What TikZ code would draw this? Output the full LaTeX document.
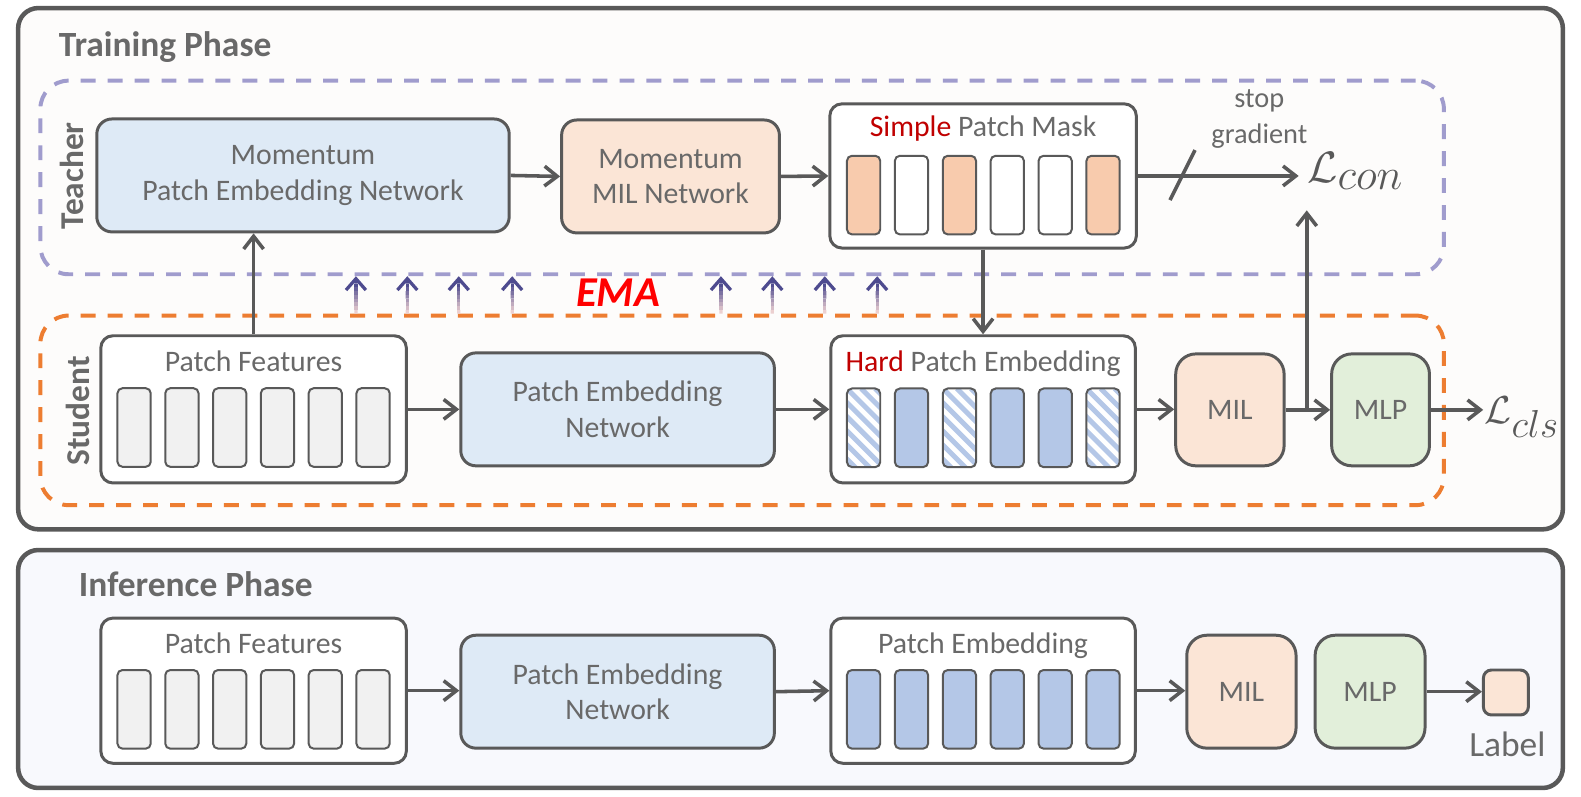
\documentclass[tikz,border=0pt]{standalone}
\usepackage{fix-cm}
\usepackage{fontspec}
\setmainfont{Carlito}
\usetikzlibrary{arrows.meta,calc}
\definecolor{linegray}{RGB}{89,89,89}
\definecolor{txtgray}{RGB}{105,105,105}
\definecolor{trainbg}{RGB}{253,252,251}
\definecolor{inferbg}{RGB}{248,249,253}
\definecolor{netblue}{RGB}{222,234,246}
\definecolor{netpeach}{RGB}{251,229,214}
\definecolor{netgreen}{RGB}{226,239,218}
\definecolor{barblue}{RGB}{180,199,231}
\definecolor{barpeach}{RGB}{248,203,173}
\definecolor{bargray}{RGB}{241,241,241}
\definecolor{teachline}{RGB}{160,156,205}
\definecolor{studline}{RGB}{237,125,49}
\definecolor{hardred}{RGB}{192,0,0}
\definecolor{emared}{RGB}{255,0,0}
\definecolor{emahi}{RGB}{78,75,143}
\definecolor{emalo}{RGB}{236,208,208}
\newcommand{\px}{0.025cm}
\newcommand{\netfont}{\fontsize{21}{25}\selectfont}
\tikzset{
  phasebox/.style={draw=linegray,line width=3.2pt,rounded corners=20*\px,inner sep=0pt},
  groupbox/.style={draw=#1,line width=2.8pt,dash pattern=on 10.5pt off 8.5pt,rounded corners=28*\px,inner sep=0pt},
  netbox/.style={draw=linegray,line width=2.1pt,rounded corners=15*\px,inner sep=0pt,text=txtgray,align=center,font=\netfont},
  holder/.style={draw=linegray,line width=2.1pt,rounded corners=12*\px,fill=white,inner sep=0pt},
  bar/.style={draw=linegray,line width=1.4pt,rounded corners=5*\px,minimum width=33*\px,minimum height=78*\px,inner sep=0pt},
  solidbar/.style={bar,fill=barblue},
  hatched/.style={bar,fill=white,path picture={
      \foreach \s in {-7,...,3}
        \draw[barblue,line width=3.5pt] ($(path picture bounding box.north west)+(\s*14,0)$) -- ++(90,90);}},
  txt/.style={text=txtgray,font=\netfont,inner sep=0pt},
  flow/.style={draw=linegray,line width=2.5pt,-{Straight Barb[length=9pt,width=14pt]}},
  cutline/.style={draw=linegray,line width=2.5pt},
  emaline/.style={line width=2.3pt},
}
\begin{document}
\begin{tikzpicture}[x=\px,y=-\px]
\useasboundingbox (0,0) rectangle (1568,789.5);
\node[phasebox,fill=trainbg,minimum width=1532*\px,minimum height=517*\px] (train) at (784,266.5) {};
\node[phasebox,fill=inferbg,minimum width=1532*\px,minimum height=236*\px] (infer) at (784,663.5) {};
\node[txt,font=\fontsize{25}{30}\selectfont\bfseries,anchor=base west] (traintitle) at (58,56.5) {Training Phase};
\node[txt,font=\fontsize{25}{30}\selectfont\bfseries,anchor=base west] (infertitle) at (78,591.8) {Inference Phase};
\node[groupbox=teachline,minimum width=1392*\px,minimum height=192*\px] (teacher) at (736,176) {};
\node[groupbox=studline,minimum width=1392*\px,minimum height=188*\px] (student) at (736,407) {};
\node[txt,font=\fontsize{23.5}{28}\selectfont\bfseries,rotate=90] (teachlab) at (71,174.5) {Teacher};
\node[txt,font=\fontsize{23.5}{28}\selectfont\bfseries,rotate=90] (studlab) at (77,407.5) {Student};

\node[netbox,fill=netblue,minimum width=409*\px,minimum height=112*\px] (tpen) at (300.5,174) {Momentum\\Patch Embedding Network};
\node[netbox,fill=netpeach,minimum width=216*\px,minimum height=112*\px] (tmil) at (665,175) {Momentum\\MIL Network};
\node[holder,minimum width=304*\px,minimum height=143*\px] (mask) at (975,174.5) {};
\node[txt,anchor=base] (masktitle) at (975,135.5) {\textcolor{hardred}{Simple} Patch Mask};
\foreach \i/\c in {1/barpeach,2/white,3/barpeach,4/white,5/white,6/barpeach}
  \node[bar,fill=\c] (m\i) at ({809+47.5*\i},193.5) {};
\node[txt,align=center,font=\fontsize{20}{25}\selectfont] (stopgrad) at (1249,118) {stop\\gradient};
\node[txt,text=linegray,font=\fontsize{31}{37}\selectfont,anchor=base west,outer xsep=6pt,outer ysep=15pt] (lcon) at (1288,181) {$\mathcal{L}_{\textstyle con}$};
\coordinate (cuta) at (1160.4,198.4);
\coordinate (cutb) at (1185.2,148.8);

\node[holder,minimum width=303*\px,minimum height=146*\px] (spf) at (251.5,406) {};
\node[txt,anchor=base] (spftitle) at (251.5,368.6) {Patch Features};
\foreach \i in {1,...,6}
  \node[bar,fill=bargray] (spf\i) at ({85.6+47.4*\i},424) {};
\node[netbox,fill=netblue,minimum width=311*\px,minimum height=112*\px] (spen) at (612.5,406) {Patch Embedding\\Network};
\node[holder,minimum width=302*\px,minimum height=146*\px] (hpe) at (975,406) {};
\node[txt,anchor=base] (hpetitle) at (975,368.6) {\textcolor{hardred}{Hard} Patch Embedding};
\foreach \i/\s in {1/hatched,2/solidbar,3/hatched,4/solidbar,5/solidbar,6/hatched}
  \node[\s] (h\i) at ({809+47.5*\i},424.3) {};
\node[netbox,fill=netpeach,rounded corners=20*\px,minimum width=107.5*\px,minimum height=111*\px] (smil) at (1219.8,406.5) {MIL};
\node[netbox,fill=netgreen,rounded corners=20*\px,minimum width=97*\px,minimum height=111*\px] (smlp) at (1369.2,406.5) {MLP};
\node[txt,text=linegray,font=\fontsize{27.5}{33}\selectfont,anchor=base west,outer xsep=1pt] (lcls) at (1471,420) {$\mathcal{L}_{\textstyle cls}$};
\coordinate (branch) at (1296,406.5);

\foreach \x [count=\i] in {353,404,455,508,715,766,818,870}{
  \coordinate (ema\i) at (\x,0);
  \foreach \k [evaluate=\k as \ka using \k/10, evaluate=\k as \kb using \k/10+0.1, evaluate=\k as \kc using int(14*\k)] in {0,...,7}
    \draw[emaline,emahi!\kc!emalo] ($(student.north -| ema\i)!\ka!(teacher.south -| ema\i)$) -- ($(student.north -| ema\i)!\kb!(teacher.south -| ema\i)$);
  \draw[emaline,emahi,-{Straight Barb[length=8pt,width=14pt]}] ($(student.north -| ema\i)!0.8!(teacher.south -| ema\i)$) -- (teacher.south -| ema\i);
}
\node[font=\fontsize{30}{36}\selectfont\bfseries\itshape,text=emared,inner sep=0pt] (ema) at (613,290) {EMA};

\node[holder,minimum width=303*\px,minimum height=144*\px] (ipf) at (251.5,685) {};
\node[txt,anchor=base] (ipftitle) at (251.5,648) {Patch Features};
\foreach \i in {1,...,6}
  \node[bar,fill=bargray] (ipf\i) at ({85.6+47.4*\i},703.5) {};
\node[netbox,fill=netblue,minimum width=311*\px,minimum height=112*\px] (ipen) at (612.5,686) {Patch Embedding\\Network};
\node[holder,minimum width=302*\px,minimum height=144*\px] (ipe) at (975,685) {};
\node[txt,anchor=base] (ipetitle) at (975,648) {Patch Embedding};
\foreach \i in {1,...,6}
  \node[solidbar] (ipe\i) at ({809+47.5*\i},703.5) {};
\node[netbox,fill=netpeach,rounded corners=20*\px,minimum width=108.4*\px,minimum height=112*\px] (imil) at (1231.2,686) {MIL};
\node[netbox,fill=netgreen,rounded corners=20*\px,minimum width=109*\px,minimum height=112*\px] (imlp) at (1358.8,686) {MLP};
\node[netbox,fill=netpeach,rounded corners=8*\px,minimum width=44.6*\px,minimum height=44.6*\px] (lab) at (1493.5,686.8) {};
\node[txt,font=\fontsize{25}{30}\selectfont,anchor=base] (labtxt) at (1495,750.5) {Label};

\draw[flow] (tpen.east) -- (tmil.west);
\draw[flow] (tmil.east) -- (mask.west);
\draw[flow] (mask.east) -- (mask.east -| lcon.west);
\draw[cutline] (cuta) -- (cutb);
\draw[flow] (spf.north) -- (spf.north |- tpen.south);
\draw[flow] (spf.east) -- (spf.east -| spen.west);
\draw[flow] (spen.east) -- (hpe.west);
\draw[flow] (mask.south) -- (hpe.north);
\draw[flow] (hpe.east) -- (hpe.east -| smil.west);
\draw[flow] (smil.east) -- (smlp.west);
\draw[flow] (smil.east -| branch) -- (lcon.south -| branch);
\draw[flow] (smlp.east) -- (smlp.east -| lcls.west);
\draw[flow] (ipf.east) -- (ipf.east -| ipen.west);
\draw[flow] (ipen.east) -- (ipe.west);
\draw[flow] (ipe.east) -- (ipe.east -| imil.west);
\draw[flow] (imlp.east) -- (imlp.east -| lab.west);
\end{tikzpicture}
\end{document}
